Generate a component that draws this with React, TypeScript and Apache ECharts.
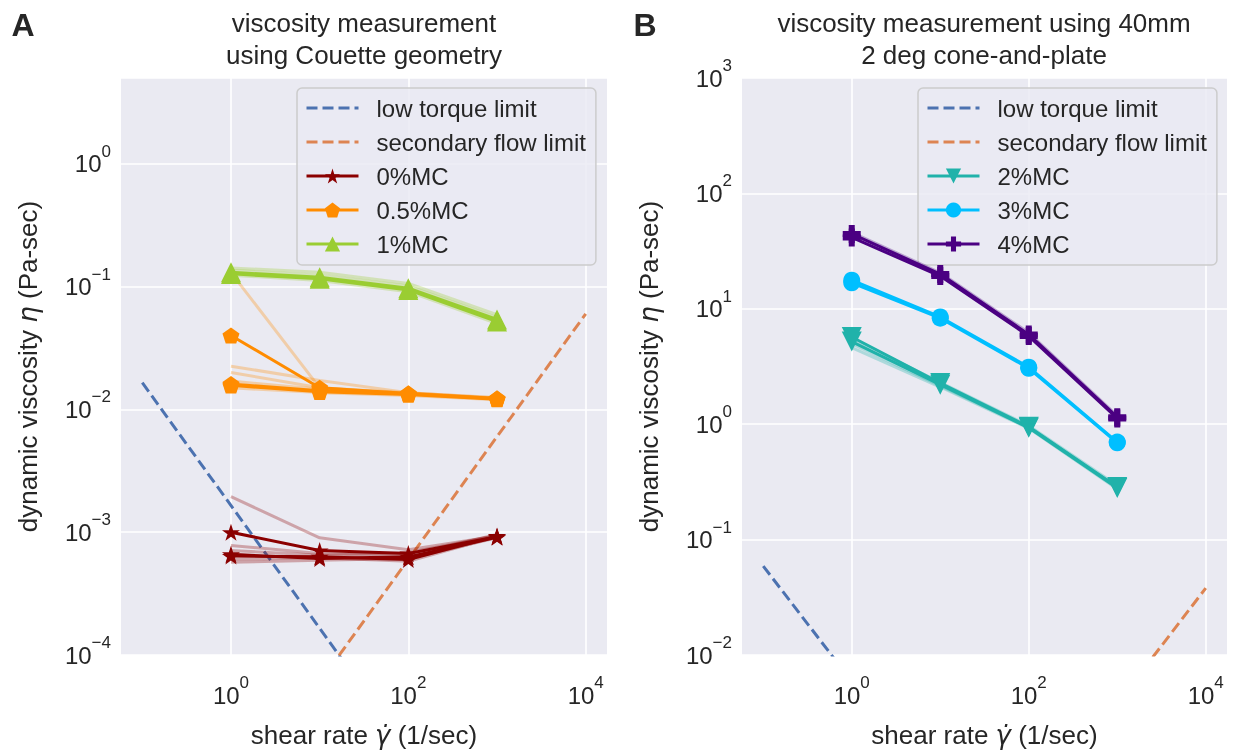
import React, { useEffect, useRef } from 'react';
import * as echarts from 'echarts';

const FONT = "'Liberation Sans', Arial, sans-serif";
const MATH_FONT = "'DejaVu Sans', sans-serif";
const TEXT = '#262626';
const BG = '#EAEAF2';

// shear rates (1/sec)
const shearRate = [1, 10, 100, 1000];
const limitShearRate = [0.1, 10000];

// limit lines (Pa-sec)
const couetteLowTorque = [0.0165, 1.65e-7];
const couetteSecondaryFlow = [6e-7, 0.06];
const conePlateLowTorque = [0.059, 5.9e-7];
const conePlateSecondaryFlow = [3.8e-7, 0.038];

// Couette geometry (Pa-sec)
const mc0Runs = [
  [1.0e-3, 7.1e-4, 6.7e-4, 9.2e-4],
  [6.4e-4, 6.3e-4, 6.0e-4, 9.3e-4],
  [6.6e-4, 6.1e-4, 6.3e-4, 9.1e-4],
];
const mc0Faint = [
  [1.95e-3, 9.0e-4, 7.2e-4, 9.3e-4],
  [7.8e-4, 6.7e-4, 6.5e-4, 9.6e-4],
  [5.7e-4, 5.9e-4, 6.1e-4, 9.0e-4],
  [7.1e-4, 6.5e-4, 6.8e-4, 9.4e-4],
  [6.0e-4, 6.2e-4, 5.8e-4, 9.2e-4],
];
const mc05Runs = [
  [0.040, 0.0150, 0.0135, 0.0123],
  [0.0161, 0.0142, 0.0134, 0.0122],
  [0.0157, 0.0139, 0.0132, 0.0121],
];
const mc05Faint = [
  [0.130, 0.0150, 0.0137, 0.0124],
  [0.0225, 0.0172, 0.0137, 0.0123],
  [0.0200, 0.0150, 0.0133, 0.0122],
  [0.0170, 0.0146, 0.0136, 0.0125],
  [0.0150, 0.0137, 0.0130, 0.0120],
];
const mc1Runs = [
  [0.131, 0.119, 0.097, 0.054],
  [0.127, 0.116, 0.094, 0.052],
];
const mc1Faint = [
  [0.142, 0.131, 0.106, 0.059],
  [0.136, 0.124, 0.101, 0.056],
  [0.124, 0.112, 0.091, 0.050],
];

// cone-and-plate (Pa-sec)
const mc2Runs = [
  [5.7, 2.27, 0.95, 0.286],
  [5.2, 2.2, 0.93, 0.28],
];
const mc2Faint = [
  [4.6, 2.1, 0.92, 0.275],
  [5.5, 2.3, 0.97, 0.295],
  [5.0, 2.15, 0.94, 0.28],
];
const mc3Runs = [
  [17.7, 8.5, 3.12, 0.70],
  [16.8, 8.3, 3.05, 0.69],
];
const mc4Runs = [
  [44.5, 20.0, 6.0, 1.15],
  [41.5, 19.2, 5.8, 1.12],
];
const mc4Faint = [
  [46.0, 20.5, 6.2, 1.18],
];

const xGridValues = [1, 100, 10000];

const STAR = 'path://M50,0L61.2,34.5L97.6,34.5L68.2,55.9L79.4,90.5L50,69.1L20.6,90.5L31.8,55.9L2.4,34.5L38.8,34.5Z';
const PENTAGON = 'path://M50,0L97.6,34.5L79.4,90.5L20.6,90.5L2.4,34.5Z';
const PLUS = 'path://M20,0L40,0L40,20L60,20L60,40L40,40L40,60L20,60L20,40L0,40L0,20L20,20Z';

const pts = (xs: number[], ys: number[]) => xs.map((x, i) => [x, ys[i]]);

function limitSeries(name: string, ys: number[], axis: number, color: string, withGrid: boolean) {
  const s: any = {
    type: 'line',
    name,
    xAxisIndex: axis,
    yAxisIndex: axis,
    data: pts(limitShearRate, ys),
    symbol: 'none',
    clip: true,
    lineStyle: { color, width: 3, type: [11, 5] },
    itemStyle: { color, opacity: 0 },
    z: 3,
    silent: true,
  };
  if (withGrid) {
    s.markLine = {
      silent: true,
      symbol: 'none',
      z: 1,
      label: { show: false },
      lineStyle: { color: '#ffffff', width: 1.6, type: 'solid' },
      data: xGridValues.map((v) => ({ xAxis: v })),
    };
  }
  return s;
}

function runSeries(name: string, ys: number[], axis: number, color: string, symbol: string, size: number, rotate = 0) {
  return {
    type: 'line',
    name,
    xAxisIndex: axis,
    yAxisIndex: axis,
    data: pts(shearRate, ys),
    symbol,
    symbolSize: size,
    symbolRotate: rotate,
    symbolKeepAspect: true,
    lineStyle: { color, width: 3 },
    itemStyle: { color },
    z: 5,
    silent: true,
  };
}

function faintSeries(name: string, ys: number[], axis: number, color: string) {
  return {
    type: 'line',
    name,
    xAxisIndex: axis,
    yAxisIndex: axis,
    data: pts(shearRate, ys),
    symbol: 'none',
    lineStyle: { color, width: 3, opacity: 0.3 },
    itemStyle: { color },
    z: 4,
    silent: true,
  };
}

const supRich = {
  b: { fontSize: 24, lineHeight: 42, fontFamily: FONT, color: TEXT },
  s: { fontSize: 17, lineHeight: 17, verticalAlign: 'top', fontFamily: FONT, color: TEXT },
};

function powLabel(v: number, evenOnly: boolean) {
  const e = Math.log10(v);
  const r = Math.round(e);
  if (Math.abs(e - r) > 1e-6) return '';
  if (evenOnly && r % 2 !== 0) return '';
  const t = r < 0 ? '\u2212' + -r : String(r);
  return '{b|10}{s|' + t + '}';
}

const nameRich = {
  t: { fontSize: 26, fontFamily: FONT, color: TEXT },
  i: { fontSize: 26, fontFamily: MATH_FONT, color: TEXT, fontStyle: 'italic' },
};

function xAxisFor(gridIndex: number) {
  return {
    type: 'log',
    logBase: 10,
    gridIndex,
    min: Math.pow(10, -1.24),
    max: Math.pow(10, 4.24),
    axisLine: { show: false },
    axisTick: { show: false },
    splitLine: { show: false },
    axisLabel: { formatter: (v: number) => powLabel(v, true), margin: 19, rich: supRich },
    name: '{t|shear rate }{i|\u03B3\u0307}{t| (1/sec)}',
    nameLocation: 'middle',
    nameGap: 67,
    nameTextStyle: { rich: nameRich },
  };
}

function yAxisFor(gridIndex: number, min: number, max: number) {
  return {
    type: 'log',
    logBase: 10,
    gridIndex,
    min,
    max,
    axisLine: { show: false },
    axisTick: { show: false },
    splitLine: { show: true, lineStyle: { color: '#ffffff', width: 1.6 } },
    axisLabel: { formatter: (v: number) => powLabel(v, false), margin: 10, rich: supRich },
    name: '{t|dynamic viscosity }{i|\u03B7}{t| (Pa-sec)}',
    nameLocation: 'middle',
    nameGap: 80,
    nameTextStyle: { rich: nameRich },
  };
}

function legendFor(left: number, names: string[]) {
  return {
    orient: 'vertical',
    left,
    top: 88,
    data: names,
    itemWidth: 52,
    itemHeight: 19,
    itemGap: 8,
    padding: [7, 10, 8, 8],
    backgroundColor: 'rgba(234,234,242,0.8)',
    borderColor: '#CCCCCC',
    borderWidth: 1.5,
    borderRadius: 5,
    selectedMode: false,
    lineStyle: { width: 3 },
    textStyle: { fontSize: 24, fontFamily: FONT, color: TEXT, lineHeight: 26, padding: [0, 0, 0, 13] },
  };
}

export default function App() {
  const ref = useRef<HTMLDivElement>(null);
  useEffect(() => {
    if (!ref.current) return;
    const chart = echarts.init(ref.current, undefined, { renderer: 'svg' });

    const series: any[] = [];
    // Left: Couette
    series.push(limitSeries('low torque limit', couetteLowTorque, 0, '#4C72B0', true));
    series.push(limitSeries('secondary flow limit', couetteSecondaryFlow, 0, '#DD8452', false));
    mc0Faint.forEach((ys, i) => series.push(faintSeries('0%MC faint ' + i, ys, 0, '#8B0000')));
    mc05Faint.forEach((ys, i) => series.push(faintSeries('0.5%MC faint ' + i, ys, 0, '#FF8C00')));
    mc1Faint.forEach((ys, i) => series.push(faintSeries('1%MC faint ' + i, ys, 0, '#9ACD32')));
    mc0Runs.forEach((ys, i) => series.push(runSeries(i === 0 ? '0%MC' : '0%MC run ' + i, ys, 0, '#8B0000', STAR, 18)));
    mc05Runs.forEach((ys, i) => series.push(runSeries(i === 0 ? '0.5%MC' : '0.5%MC run ' + i, ys, 0, '#FF8C00', PENTAGON, 17)));
    mc1Runs.forEach((ys, i) => series.push(runSeries(i === 0 ? '1%MC' : '1%MC run ' + i, ys, 0, '#9ACD32', 'triangle', 20)));
    // Right: cone-and-plate
    series.push(limitSeries('low torque limit', conePlateLowTorque, 1, '#4C72B0', true));
    series.push(limitSeries('secondary flow limit', conePlateSecondaryFlow, 1, '#DD8452', false));
    mc2Faint.forEach((ys, i) => series.push(faintSeries('2%MC faint ' + i, ys, 1, '#20B2AA')));
    mc4Faint.forEach((ys, i) => series.push(faintSeries('4%MC faint ' + i, ys, 1, '#4B0082')));
    mc2Runs.forEach((ys, i) => series.push(runSeries(i === 0 ? '2%MC' : '2%MC run ' + i, ys, 1, '#20B2AA', 'triangle', 20, 180)));
    mc3Runs.forEach((ys, i) => series.push(runSeries(i === 0 ? '3%MC' : '3%MC run ' + i, ys, 1, '#00BFFF', 'circle', 17)));
    mc4Runs.forEach((ys, i) => series.push(runSeries(i === 0 ? '4%MC' : '4%MC run ' + i, ys, 1, '#4B0082', PLUS, 18)));

    chart.setOption({
      animation: false,
      textStyle: { fontFamily: FONT },
      grid: [
        { left: 121, top: 78, width: 486, height: 577, show: true, backgroundColor: BG, borderWidth: 0 },
        { left: 742, top: 78, width: 485, height: 577, show: true, backgroundColor: BG, borderWidth: 0 },
      ],
      xAxis: [xAxisFor(0), xAxisFor(1)],
      yAxis: [yAxisFor(0, 1e-4, 5), yAxisFor(1, 1e-2, 1e3)],
      legend: [
        legendFor(297, ['low torque limit', 'secondary flow limit', '0%MC', '0.5%MC', '1%MC']),
        legendFor(918, ['low torque limit', 'secondary flow limit', '2%MC', '3%MC', '4%MC']),
      ],
      graphic: [
        { type: 'text', x: 364, y: 7, silent: true, style: { text: 'viscosity measurement\nusing Couette geometry', fontSize: 26, fontFamily: FONT, fill: TEXT, textAlign: 'center', lineHeight: 32 } },
        { type: 'text', x: 984, y: 7, silent: true, style: { text: 'viscosity measurement using 40mm\n2 deg cone-and-plate', fontSize: 26, fontFamily: FONT, fill: TEXT, textAlign: 'center', lineHeight: 32 } },
        { type: 'text', x: 23, y: 25, silent: true, style: { text: 'A', fontSize: 32, fontWeight: 'bold', fontFamily: FONT, fill: TEXT, textAlign: 'center', verticalAlign: 'middle' } },
        { type: 'text', x: 645, y: 25, silent: true, style: { text: 'B', fontSize: 32, fontWeight: 'bold', fontFamily: FONT, fill: TEXT, textAlign: 'center', verticalAlign: 'middle' } },
      ],
      series,
    });
    return () => chart.dispose();
  }, []);
  return <div ref={ref} style={{ position: 'fixed', left: 0, top: 0, width: 1233, height: 753 }} />;
}
